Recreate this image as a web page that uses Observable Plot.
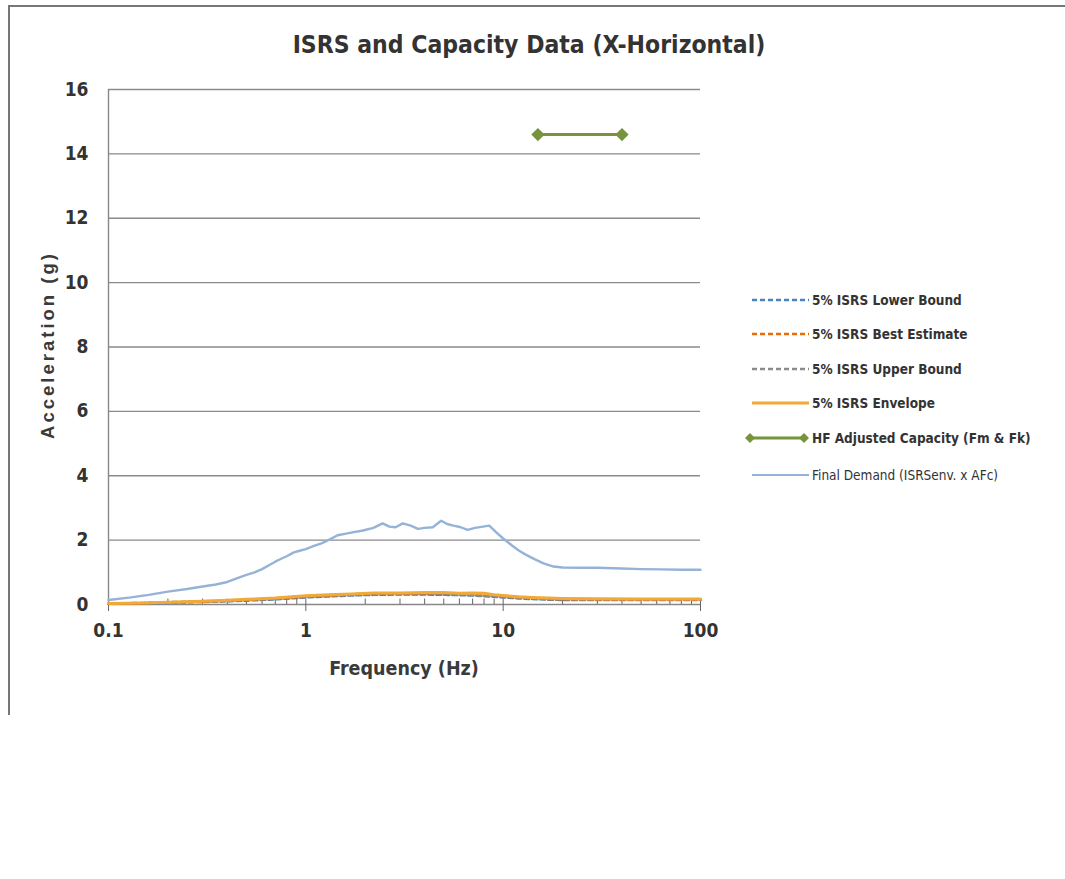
<!DOCTYPE html>
<html>
<head>
<meta charset="utf-8">
<script src="https://cdn.jsdelivr.net/npm/d3@7"></script>
<script src="https://cdn.jsdelivr.net/npm/@observablehq/plot@0.6"></script>
<style>
  body { margin: 0; background: #fff; }
  #wrap { position: relative; width: 1065px; height: 879px; overflow: hidden; font-family: "DejaVu Sans Condensed", "Liberation Sans", sans-serif; color: #333; }
  #frame { position: absolute; left: 8px; top: 5px; width: 1060px; height: 710px; border-left: 2px solid #777; border-top: 2px solid #777; box-sizing: border-box; }
  #title { position: absolute; left: 0; width: 1058px; top: 30px; text-align: center; font-size: 24.5px; font-weight: bold; color: #333; }
  #ylab { position: absolute; left: 48px; top: 345px; transform: translate(-50%, -50%) rotate(-90deg); white-space: nowrap; font-family: "Liberation Sans", Arial, sans-serif; font-size: 18.5px; font-weight: bold; letter-spacing: 3px; color: #3a3a3a; }
  #xlab { position: absolute; left: 404px; top: 668px; transform: translate(-50%, -50%); white-space: nowrap; font-size: 19.5px; font-weight: bold; color: #3a3a3a; }
  #chart { position: absolute; left: 0; top: 0; }
  #legend { position: absolute; left: 0; top: 0; }
  .li { position: absolute; height: 20px; display: flex; align-items: center; font-size: 13.5px; font-weight: bold; color: #333; white-space: nowrap; }
  .li svg { margin-right: 3px; }
</style>
</head>
<body>
<div id="wrap">
  <div id="frame"></div>
  <div id="title">ISRS and Capacity Data (X-Horizontal)</div>
  <div id="chart"></div>
  <div id="ylab">Acceleration (g)</div>
  <div id="xlab">Frequency (Hz)</div>
  <div id="legend"></div>
</div>
<script>
// ---- data ----
const yTicks = [0, 2, 4, 6, 8, 10, 12, 14, 16];
const xTicks = [0.1, 1, 10, 100];
const xTickLabels = ["0.1", "1", "10", "100"];
const xMinorTicks = [0.2,0.3,0.4,0.5,0.6,0.7,0.8,0.9,1,2,3,4,5,6,7,8,9,10,20,30,40,50,60,70,80,90,100];

const seriesNames = [
  "5% ISRS Lower Bound",
  "5% ISRS Best Estimate",
  "5% ISRS Upper Bound",
  "5% ISRS Envelope",
  "HF Adjusted Capacity (Fm & Fk)",
  "Final Demand (ISRSenv. x AFc)"
];

const isrsFreq = [0.1, 0.15, 0.2, 0.3, 0.4, 0.5, 0.7, 0.85, 1, 1.3, 1.7, 2.2, 3, 4, 5, 6, 7, 8, 9, 10, 12, 14, 17, 20, 30, 50, 100];
const lowerBound = [0.02,0.03,0.05,0.08,0.1,0.12,0.16,0.19,0.22,0.25,0.28,0.3,0.31,0.31,0.3,0.29,0.28,0.26,0.24,0.22,0.19,0.17,0.15,0.14,0.14,0.14,0.14];
const bestEstimate = [0.02,0.04,0.06,0.09,0.11,0.14,0.18,0.21,0.24,0.27,0.3,0.32,0.33,0.33,0.32,0.31,0.3,0.28,0.26,0.24,0.21,0.19,0.17,0.16,0.15,0.15,0.15];
const upperBound = [0.03,0.05,0.07,0.1,0.12,0.15,0.19,0.23,0.26,0.29,0.32,0.34,0.35,0.35,0.34,0.32,0.3,0.27,0.27,0.26,0.22,0.2,0.18,0.17,0.16,0.16,0.16];
const envelope = [0.03,0.05,0.07,0.1,0.13,0.16,0.2,0.24,0.27,0.3,0.33,0.36,0.36,0.37,0.37,0.35,0.36,0.35,0.3,0.28,0.24,0.22,0.2,0.19,0.18,0.17,0.17];

const capFreq = [15, 40];
const capValue = [14.6, 14.6];

const demandFreq = [0.1,0.13,0.16,0.2,0.25,0.3,0.35,0.4,0.45,0.5,0.55,0.6,0.65,0.7,0.75,0.8,0.87,0.93,1.0,1.1,1.2,1.3,1.45,1.6,1.75,1.95,2.2,2.45,2.65,2.85,3.1,3.4,3.7,4.0,4.4,4.85,5.2,5.6,6.1,6.6,7.2,7.9,8.5,9.2,10,11,12,13,14.5,16,18,20,25,30,40,50,63,80,100];
const demandValue = [0.14,0.22,0.3,0.4,0.48,0.56,0.62,0.7,0.82,0.92,1.0,1.1,1.22,1.33,1.42,1.5,1.62,1.67,1.72,1.82,1.9,2.0,2.15,2.2,2.25,2.3,2.38,2.52,2.42,2.4,2.52,2.45,2.35,2.38,2.4,2.6,2.5,2.45,2.4,2.32,2.38,2.42,2.45,2.25,2.05,1.85,1.68,1.55,1.4,1.28,1.18,1.15,1.14,1.14,1.12,1.1,1.09,1.08,1.08];

// ---- styles ----
const colors = ["#4f81bd", "#e46c0a", "#8c8c8c", "#f3a935", "#77933c", "#95b3d7"];

const toRows = (xs, ys) => xs.map((f, i) => ({f, v: ys[i]}));
const lbRows = toRows(isrsFreq, lowerBound);
const beRows = toRows(isrsFreq, bestEstimate);
const ubRows = toRows(isrsFreq, upperBound);
const envRows = toRows(isrsFreq, envelope);
const capRows = toRows(capFreq, capValue);
const demRows = toRows(demandFreq, demandValue);
const xLabelOf = new Map(xTicks.map((t, i) => [t, xTickLabels[i]]));

const chart = Plot.plot({
  width: 720,
  height: 720,
  marginLeft: 108,
  marginRight: 20,
  marginTop: 89,
  marginBottom: 116,
  style: {fontFamily: '"DejaVu Sans Condensed", "Liberation Sans", sans-serif', fontSize: "19px", fontWeight: "bold", color: "#333", background: "transparent"},
  x: {type: "log", domain: [0.1, 100], axis: null},
  y: {domain: [0, 16], axis: null},
  marks: [
    Plot.ruleY(yTicks.filter(d => d > 0), {stroke: "#8a8a8a", strokeWidth: 1.4}),
    Plot.ruleY([0], {stroke: "#888", strokeWidth: 1.4}),
    Plot.ruleX([0.1], {stroke: "#888", strokeWidth: 1.4}),
    Plot.axisY({ticks: yTicks, tickSize: 0, tickPadding: 20, label: null, fontSize: 19, fontWeight: "bold", fill: "#333"}),
    Plot.axisX({ticks: xTicks, tickFormat: d => xLabelOf.get(d) ?? String(d), tickSize: 7, tickPadding: 12, label: null, stroke: "#666", fontSize: 19, fontWeight: "bold", fill: "#333"}),
    Plot.ruleX(xMinorTicks, {y1: 0, y2: 0.17, stroke: "#666", strokeWidth: 1}),
    Plot.line(demRows, {x: "f", y: "v", stroke: colors[5], strokeWidth: 2.4}),
    Plot.line(lbRows, {x: "f", y: "v", stroke: colors[0], strokeWidth: 2.5, strokeDasharray: "5,3"}),
    Plot.line(beRows, {x: "f", y: "v", stroke: colors[1], strokeWidth: 2.5, strokeDasharray: "5,3"}),
    Plot.line(ubRows, {x: "f", y: "v", stroke: colors[2], strokeWidth: 2.5, strokeDasharray: "5,3"}),
    Plot.line(envRows, {x: "f", y: "v", stroke: colors[3], strokeWidth: 3}),
    Plot.line(capRows, {x: "f", y: "v", stroke: colors[4], strokeWidth: 3}),
    Plot.dot(capRows, {x: "f", y: "v", symbol: "diamond2", fill: colors[4], r: 6})
  ]
});
document.getElementById("chart").appendChild(chart);

// ---- legend ----
const legendY = [300, 334, 369, 403, 438, 475];
const dashes = ["5,3", "5,3", "5,3", null, null, null];
const widths = [2.5, 2.5, 2.5, 3, 3, 1.8];
const legend = document.getElementById("legend");
seriesNames.forEach((name, i) => {
  const div = document.createElement("div");
  div.className = "li";
  const isCap = i === 4;
  div.style.left = (isCap ? 745 : 752) + "px";
  div.style.top = (legendY[i] - 10) + "px";
  const w = isCap ? 64 : 57;
  const ns = "http://www.w3.org/2000/svg";
  const svg = document.createElementNS(ns, "svg");
  svg.setAttribute("width", w);
  svg.setAttribute("height", 14);
  const ln = document.createElementNS(ns, "line");
  ln.setAttribute("x1", isCap ? 5 : 0);
  ln.setAttribute("x2", isCap ? w - 5 : w);
  ln.setAttribute("y1", 7);
  ln.setAttribute("y2", 7);
  ln.setAttribute("stroke", colors[i]);
  ln.setAttribute("stroke-width", widths[i]);
  if (dashes[i]) ln.setAttribute("stroke-dasharray", dashes[i]);
  svg.appendChild(ln);
  if (isCap) {
    [5, w - 5].forEach(cx => {
      const p = document.createElementNS(ns, "path");
      p.setAttribute("d", `M${cx},2 L${cx + 5},7 L${cx},12 L${cx - 5},7 Z`);
      p.setAttribute("fill", colors[4]);
      svg.appendChild(p);
    });
  }
  div.appendChild(svg);
  const span = document.createElement("span");
  span.textContent = name;
  if (i === 5) span.style.fontWeight = "normal";
  div.appendChild(span);
  legend.appendChild(div);
});
</script>
</body>
</html>
